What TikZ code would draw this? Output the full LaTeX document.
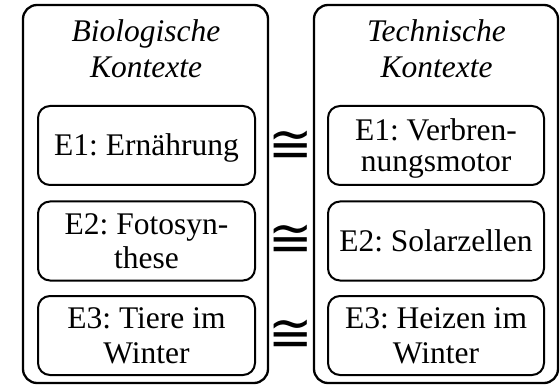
\documentclass[tikz,border=0pt]{standalone}
\usepackage{fontspec}
\setmainfont{Liberation Serif}
\newfontfamily\congfont{DejaVu Sans}
\frenchspacing
\begin{document}
\begin{tikzpicture}[x=1pt,y=-1pt,
  outerbox/.style={draw=black, line width=2.3pt, rounded corners=14pt, minimum width=#1, minimum height=378pt, inner sep=0pt},
  innerbox/.style={draw=black, line width=2pt, rounded corners=12pt, minimum width=#1, minimum height=79pt, inner sep=0pt, align=center,
    font=\fontsize{31.5}{35}\selectfont, text depth=0pt},
  titletext/.style={align=center, inner sep=0pt, font=\fontsize{31.5}{36}\selectfont\itshape, text height=57pt, text depth=0pt},
  congsym/.style={inner sep=0pt, font=\congfont\fontsize{53}{53}\selectfont}
]
\useasboundingbox (0,0) rectangle (560,385);
% outer frames
\node[outerbox=245pt] (L) at (145.5,194) {};
\node[outerbox=244pt] (R) at (436,194) {};
% titles
\node[titletext] (Lt) at (146,49.5) {Biologische\\Kontexte};
\node[titletext] (Rt) at (436.5,49.5) {Technische\\Kontexte};
% left inner boxes
\node[innerbox=217pt, text height=21pt] (L1) at (146.5,145.5) {E1: Ernährung};
\node[innerbox=217pt, text height=56pt] (L2) at (146.5,241) {E2: Fotosyn-\\these};
\node[innerbox=217pt, text height=56pt] (L3) at (146.5,335.5) {E3: Tiere im\\Winter};
% right inner boxes
\node[innerbox=216pt, text height=52pt] (R1) at (436,145.5) {E1: Verbren-\\[-4pt]nungsmotor};
\node[innerbox=216pt, text height=21pt] (R2) at (436,241) {E2: Solarzellen};
\node[innerbox=216pt, text height=56pt] (R3) at (436,335.5) {E3: Heizen im\\Winter};
% congruence symbols
\node[congsym] (c1) at (291,147) {≅};
\node[congsym] (c2) at (291,241) {≅};
\node[congsym] (c3) at (291,336) {≅};
\end{tikzpicture}
\end{document}
